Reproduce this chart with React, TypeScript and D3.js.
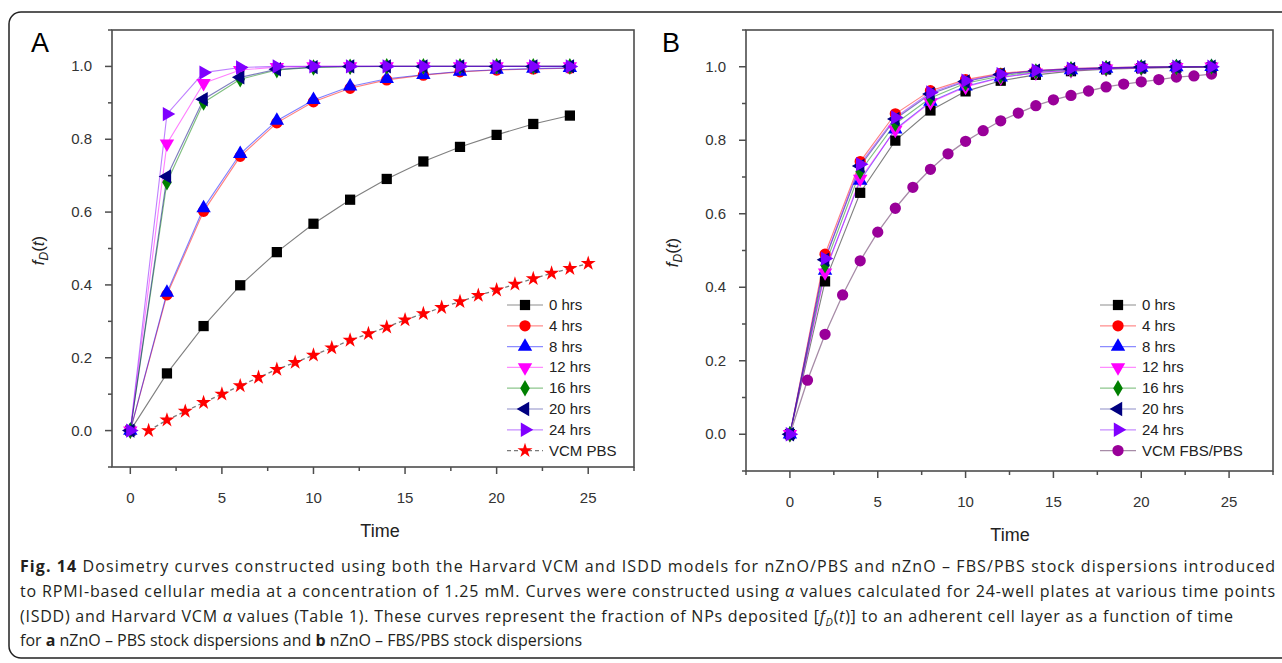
import React from 'react'
import * as d3 from 'd3'

// time points (hrs) for ISDD curves
const hours = [0, 2, 4, 6, 8, 10, 12, 14, 16, 18, 20, 22, 24]
const seriesNames = ['0 hrs', '4 hrs', '8 hrs', '12 hrs', '16 hrs', '20 hrs', '24 hrs']

// panel A: nZnO - PBS
const a0 = [0, 0.157, 0.287, 0.399, 0.49, 0.568, 0.634, 0.691, 0.739, 0.779, 0.812, 0.842, 0.865]
const a4 = [0, 0.373, 0.602, 0.753, 0.845, 0.903, 0.94, 0.963, 0.976, 0.985, 0.99, 0.993, 0.995]
const a8 = [0, 0.379, 0.611, 0.76, 0.851, 0.908, 0.945, 0.966, 0.977, 0.986, 0.991, 0.994, 0.996]
const a12 = [0, 0.788, 0.954, 0.99, 0.998, 1, 1, 1, 1, 1, 1, 1, 1]
const a16 = [0, 0.682, 0.901, 0.965, 0.99, 0.997, 0.999, 1, 1, 1, 1, 1, 1]
const a20 = [0, 0.698, 0.91, 0.97, 0.992, 0.998, 1, 1, 1, 1, 1, 1, 1]
const a24 = [0, 0.869, 0.983, 0.997, 1, 1, 1, 1, 1, 1, 1, 1, 1]
const vcmPbsTimes = d3.range(1, 26)
const vcmPbs = [0, 0.029, 0.053, 0.077, 0.1, 0.123, 0.146, 0.168, 0.187, 0.207, 0.227, 0.248, 0.266,
  0.284, 0.304, 0.321, 0.338, 0.354, 0.371, 0.386, 0.402, 0.417, 0.432, 0.445, 0.459]

// panel B: nZnO - FBS/PBS
const b0 = [0, 0.416, 0.657, 0.799, 0.881, 0.933, 0.962, 0.978, 0.988, 0.993, 0.996, 0.998, 0.999]
const b4 = [0, 0.49, 0.742, 0.872, 0.935, 0.965, 0.982, 0.99, 0.995, 0.998, 0.999, 1, 1]
const b8 = [0, 0.445, 0.69, 0.83, 0.905, 0.947, 0.971, 0.984, 0.991, 0.995, 0.998, 0.999, 1]
const b12 = [0, 0.44, 0.695, 0.828, 0.903, 0.945, 0.97, 0.984, 0.99, 0.995, 0.997, 0.999, 1]
const b16 = [0, 0.46, 0.715, 0.845, 0.915, 0.955, 0.975, 0.987, 0.993, 0.996, 0.998, 0.999, 1]
const b20 = [0, 0.475, 0.73, 0.858, 0.926, 0.96, 0.979, 0.989, 0.994, 0.997, 0.999, 1, 1]
const b24 = [0, 0.478, 0.735, 0.862, 0.93, 0.962, 0.98, 0.99, 0.995, 0.997, 0.999, 1, 1]
const vcmFbsTimes = d3.range(0, 25)
const vcmFbs = [0, 0.147, 0.272, 0.379, 0.472, 0.55, 0.615, 0.672, 0.721, 0.763, 0.797, 0.826, 0.853,
  0.874, 0.894, 0.91, 0.922, 0.934, 0.945, 0.953, 0.959, 0.965, 0.972, 0.975, 0.98]

const xTicks = [0, 5, 10, 15, 20, 25]
const yTicks = [0, 0.2, 0.4, 0.6, 0.8, 1.0]

const markerStyles = [
  {type: d3.symbolSquare, rot: 0, size: 105, color: '#000000'},
  {type: d3.symbolCircle, rot: 0, size: 100, color: '#ff0000'},
  {type: d3.symbolTriangle, rot: 0, size: 90, color: '#0000ff'},
  {type: d3.symbolTriangle, rot: 180, size: 90, color: '#ff00ff'},
  {type: d3.symbolDiamond, rot: 0, size: 80, color: '#008000'},
  {type: d3.symbolTriangle, rot: -90, size: 90, color: '#000080'},
  {type: d3.symbolTriangle, rot: 90, size: 90, color: '#8000ff'}
]

const FONT = '"Liberation Sans", Arial, sans-serif'

function Marker ({x, y, m}) {
  const path = d3.symbol().type(m.type).size(m.size)()
  return <path d={path} fill={m.color} transform={`translate(${x},${y}) rotate(${m.rot})`} />
}

function Panel ({label, xDomain, xRange, yRange, series, extra, labelX, titleX}) {
  const x = d3.scaleLinear().domain(xDomain).range(xRange)
  const y = d3.scaleLinear().domain([-0.1, 1.1]).range(yRange)
  const line = d3.line<[number, number]>().x(d => x(d[0])).y(d => y(d[1]))
  const [x0, x1] = xRange
  const [yB, yT] = yRange
  const minorX = d3.range(Math.ceil(xDomain[0] / 2.5) * 2.5, xDomain[1] + 0.01, 2.5)
  const minorY = d3.range(-0.1, 1.101, 0.1)
  const legX = x1 - 166 + extra.legShift
  const legY0 = 305

  return (
    <g>
      <text x={labelX} y={52} fontFamily={FONT} fontSize={27}>{label}</text>
      {/* series lines */}
      {series.map((s, i) => (
        <path key={'l' + i} d={line(hours.map((h, j) => [h, s[j]]))} fill='none'
          stroke={markerStyles[i].color} strokeOpacity={0.5} strokeWidth={1.1} />
      ))}
      <path d={line(extra.times.map((t, j) => [t, extra.values[j]]))} fill='none'
        stroke={extra.lineColor} strokeWidth={1.3} strokeDasharray={extra.dash} />
      {extra.times.map((t, j) => (
        <Marker key={'e' + j} x={x(t)} y={y(extra.values[j])} m={extra.marker} />
      ))}
      {series.map((s, i) => s.map((v, j) => (
        <Marker key={'m' + i + '-' + j} x={x(hours[j])} y={y(v)} m={markerStyles[i]} />
      )))}
      {/* frame */}
      <rect x={x0} y={yT} width={x1 - x0} height={yB - yT} fill='none' stroke='#4d4d4d' strokeWidth={1.6} />
      {minorX.map(t => (
        <line key={'mx' + t} x1={x(t)} x2={x(t)} y1={yB} y2={yB + (t % 5 === 0 ? 7 : 4)} stroke='#4d4d4d' strokeWidth={1.5} />
      ))}
      {minorY.map(t => {
        const major = Math.abs(Math.round(t * 10) % 2) === 0
        return <line key={'my' + t} x1={x0} x2={x0 - (major ? 7 : 4)} y1={y(t)} y2={y(t)} stroke='#4d4d4d' strokeWidth={1.5} />
      })}
      {xTicks.map(t => (
        <text key={'tx' + t} x={x(t)} y={yB + 36} textAnchor='middle' fontFamily={FONT} fontSize={15} fill='#333'>{t}</text>
      ))}
      {yTicks.map(t => (
        <text key={'ty' + t} x={x0 - 20} y={y(t) + 5} textAnchor='end' fontFamily={FONT} fontSize={15} fill='#333'>{t.toFixed(1)}</text>
      ))}
      <text x={titleX} y={yB + 70} textAnchor='middle' fontFamily={FONT} fontSize={18} fill='#222'>Time</text>
      <text transform={`translate(${x0 - 68},${(yB + yT) / 2 + 2}) rotate(-90)`} textAnchor='middle'
        fontFamily={FONT} fontSize={17} fill='#222'>
        <tspan fontStyle='italic'>f</tspan>
        <tspan fontStyle='italic' fontSize={12} dy={4}>D</tspan>
        <tspan dy={-4}>(</tspan><tspan fontStyle='italic'>t</tspan><tspan>)</tspan>
      </text>
      {/* legend */}
      {seriesNames.map((n, i) => (
        <g key={'lg' + i} transform={`translate(${legX},${legY0 + i * 20.8})`}>
          <line x1={0} x2={36} y1={0} y2={0} stroke={markerStyles[i].color} strokeOpacity={0.45} strokeWidth={1.2} />
          <Marker x={18} y={0} m={markerStyles[i]} />
          <text x={42} y={5} fontFamily={FONT} fontSize={15} fill='#222'>{n}</text>
        </g>
      ))}
      <g transform={`translate(${legX},${legY0 + 7 * 20.8})`}>
        <line x1={0} x2={36} y1={0} y2={0} stroke={extra.lineColor} strokeWidth={1.2} strokeDasharray={extra.dash} />
        <Marker x={18} y={0} m={extra.marker} />
        <text x={42} y={5} fontFamily={FONT} fontSize={15} fill='#222'>{extra.name}</text>
      </g>
    </g>
  )
}

const CAP = '"Open Sans", "Noto Sans", sans-serif'

export default function App () {
  return (
    <svg width={1282} height={663} style={{position: 'absolute', left: 0, top: 0, background: '#fff'}}>
      <rect x={9} y={12} width={1300} height={646} rx={12} fill='none' stroke='#222' strokeWidth={1.5} />
      <Panel label='A' labelX={31} titleX={380} xDomain={[-1, 27.5]} xRange={[112, 634]} yRange={[467, 30]}
        series={[a0, a4, a8, a12, a16, a20, a24]}
        extra={{name: 'VCM PBS', times: vcmPbsTimes, values: vcmPbs, lineColor: '#7a7a7a', dash: '4,3', legShift: 39,
          marker: {type: d3.symbolStar, rot: 0, size: 70, color: '#ff0000'}}} />
      <Panel label='B' labelX={662} titleX={1010} xDomain={[-2.5, 27.5]} xRange={[746, 1273]} yRange={[471, 30]}
        series={[b0, b4, b8, b12, b16, b20, b24]}
        extra={{name: 'VCM FBS/PBS', times: vcmFbsTimes, values: vcmFbs, lineColor: '#a78ca7', dash: null, legShift: -7,
          marker: {type: d3.symbolCircle, rot: 0, size: 100, color: '#990099'}}} />
      <g fontFamily={CAP} fontSize={16} fill='#231f20'>
        <text x={20} y={572} textLength={1255} lengthAdjust='spacing'>
          <tspan fontWeight='bold'>Fig. 14</tspan> Dosimetry curves constructed using both the Harvard VCM and ISDD models for nZnO/PBS and nZnO – FBS/PBS stock dispersions introduced
        </text>
        <text x={20} y={597} textLength={1255} lengthAdjust='spacing'>
          to RPMI-based cellular media at a concentration of 1.25 mM. Curves were constructed using <tspan fontStyle='italic'>α</tspan> values calculated for 24-well plates at various time points
        </text>
        <text x={20} y={622} textLength={1213} lengthAdjust='spacing'>
          (ISDD) and Harvard VCM <tspan fontStyle='italic'>α</tspan> values (Table 1). These curves represent the fraction of NPs deposited [<tspan fontStyle='italic'>f</tspan><tspan fontStyle='italic' fontSize={11} dy={4}>D</tspan><tspan dy={-4}>(</tspan><tspan fontStyle='italic'>t</tspan>)] to an adherent cell layer as a function of time
        </text>
        <text x={20} y={646}>
          for <tspan fontWeight='bold'>a</tspan> nZnO – PBS stock dispersions and <tspan fontWeight='bold'>b</tspan> nZnO – FBS/PBS stock dispersions
        </text>
      </g>
    </svg>
  )
}
